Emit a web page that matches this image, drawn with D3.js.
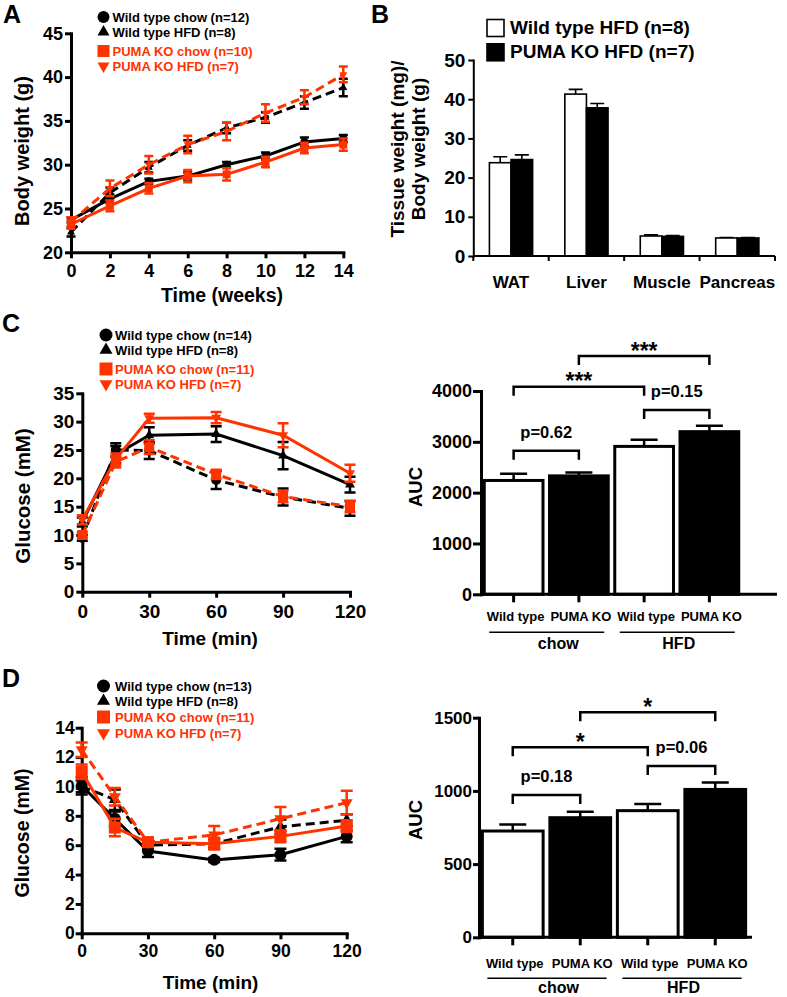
<!DOCTYPE html>
<html><head><meta charset="utf-8">
<script src="https://cdn.jsdelivr.net/npm/d3@7"></script>
<style>
body{margin:0;background:#fff}
svg{display:block}
</style></head><body>
<svg id="fig" width="787" height="997"></svg>
<script>
// ---------------- DATA ----------------
const seriesNames = ["Wild type chow", "Wild type HFD", "PUMA KO chow", "PUMA KO HFD"];
const nA = [12, 8, 10, 7];
const nC = [14, 8, 11, 7];
const nD = [13, 8, 11, 7];

// Panel A: body weight (g)
const weeks = [0, 2, 4, 6, 8, 10, 12, 14];
const bwWTchow    = [23.7, 26.1, 28.1, 28.7, 30.0, 31.0, 32.6, 33.0];
const bwWTchowErr = [0.3, 0.5, 0.3, 0.4, 0.3, 0.4, 0.5, 0.4];
const bwWThfd     = [22.3, 26.8, 29.7, 32.2, 34.2, 35.4, 37.1, 38.8];
const bwWThfdErr  = [0.5, 0.6, 0.6, 0.6, 0.6, 0.6, 0.7, 1.0];
const bwKOchow    = [23.2, 25.3, 27.3, 28.7, 28.9, 30.3, 31.9, 32.3];
const bwKOchowErr = [0.5, 0.6, 0.6, 0.7, 0.7, 0.6, 0.6, 0.7];
const bwKOhfd     = [23.5, 27.3, 30.0, 32.3, 33.8, 35.9, 37.7, 40.3];
const bwKOhfdErr  = [0.5, 0.9, 1.0, 1.0, 1.0, 1.0, 0.8, 0.9];
const weekTicks = [0, 2, 4, 6, 8, 10, 12, 14];
const bwTicks = [20, 25, 30, 35, 40, 45];

// Panel B: tissue weight / body weight
const tissues = ["WAT", "Liver", "Muscle", "Pancreas"];
const tissueWT    = [23.8, 41.3, 5.1, 4.6];
const tissueWTerr = [1.5, 1.2, 0.3, 0.1];
const tissueKO    = [24.6, 37.8, 5.0, 4.6];
const tissueKOerr = [1.2, 1.1, 0.2, 0.1];
const tissueTicks = [0, 10, 20, 30, 40, 50];
const tissueLegend = ["Wild type HFD (n=8)", "PUMA KO HFD (n=7)"];

// Panel C: GTT glucose (mM)
const minutes = [0, 15, 30, 60, 90, 120];
const gttWTchow    = [9.5, 25.0, 24.9, 19.7, 16.7, 14.7];
const gttWTchowErr = [0.5, 1.2, 1.5, 1.6, 1.5, 1.3];
const gttWThfd     = [12.3, 24.2, 27.6, 27.8, 24.0, 18.9];
const gttWThfdErr  = [0.8, 1.5, 1.4, 1.4, 2.4, 1.4];
const gttKOchow    = [10.0, 22.9, 25.5, 20.7, 16.8, 15.0];
const gttKOchowErr = [0.5, 1.0, 1.2, 0.8, 1.0, 1.0];
const gttKOhfd     = [12.7, 23.4, 30.6, 30.7, 27.6, 20.9];
const gttKOhfdErr  = [0.8, 1.0, 0.8, 1.0, 2.1, 1.5];
const gttTicks = [0, 5, 10, 15, 20, 25, 30, 35];
const minTicks = [0, 30, 60, 90, 120];

// Panel D: ITT glucose (mM)
const ittWTchow    = [10.05, 7.8, 5.6, 5.0, 5.35, 6.6];
const ittWTchowErr = [0.6, 0.5, 0.4, 0.15, 0.4, 0.4];
const ittWThfd     = [10.0, 9.1, 6.0, 6.1, 7.25, 7.7];
const ittWThfdErr  = [0.4, 0.7, 0.3, 0.3, 0.5, 0.4];
const ittKOchow    = [11.0, 7.2, 6.2, 6.1, 6.6, 7.3];
const ittKOchowErr = [0.5, 0.6, 0.3, 0.4, 0.4, 0.4];
const ittKOhfd     = [12.5, 9.3, 6.2, 6.7, 7.8, 8.9];
const ittKOhfdErr  = [0.5, 0.6, 0.3, 0.6, 0.8, 0.8];
const ittTicks = [0, 2, 4, 6, 8, 10, 12, 14];

// AUC bars
const diets = ["chow", "HFD"];
const genotypes = ["Wild type", "PUMA KO"];
const gttAUC    = [2240, 2330, 2910, 3200];
const gttAUCerr = [130, 65, 130, 115];
const gttAUCticks = [0, 1000, 2000, 3000, 4000];
const gttTests = ["p=0.62", "p=0.15", "***", "***"];
const ittAUC    = [726, 817, 865, 1010];
const ittAUCerr = [45, 41, 45, 48];
const ittAUCticks = [0, 500, 1000, 1500];
const ittTests = ["p=0.18", "p=0.06", "*", "*"];
const testPairs = [[0, 1], [2, 3], [0, 2], [1, 3]];

// ---------------- DRAWING ----------------
const FONT = '"Liberation Sans", Arial, Helvetica, sans-serif';
const RED = "#ff3300";
const svg = d3.select("#fig").attr("font-family", FONT).attr("font-weight", "bold");

function styleAxis(sel, fs, sw) {
  sel.attr("font-family", FONT).attr("font-size", fs).attr("font-weight", "bold");
  sel.select(".domain").attr("stroke", "#000").attr("stroke-width", sw).attr("stroke-linecap", "square");
  sel.selectAll(".tick line").attr("stroke", "#000").attr("stroke-width", sw);
  sel.selectAll(".tick text").attr("fill", "#000");
}

function markerPath(type, s) {
  if (type === "circle") return d3.symbol(d3.symbolCircle, Math.PI * (s / 2) * (s / 2))();
  if (type === "square") return d3.symbol(d3.symbolSquare, s * s)();
  return d3.symbol(d3.symbolTriangle, Math.sqrt(3) * s * s / 4)();
}
function markerTransform(type, x, y) {
  return `translate(${x},${y})` + (type === "triangleDown" ? " rotate(180)" : "");
}

function text(g, str, x, y, size, opts = {}) {
  const t = g.append("text").attr("x", x).attr("y", y).attr("font-size", size)
    .attr("font-weight", "bold").attr("fill", opts.fill || "#000")
    .attr("text-anchor", opts.anchor || "start").text(str);
  if (opts.baseline) t.attr("dominant-baseline", opts.baseline);
  if (opts.rotate) t.attr("transform", `rotate(-90,${x},${y})`);
  return t;
}

function lineChart(cfg) {
  const g = svg.append("g");
  const x = d3.scaleLinear().domain(cfg.xDomain).range(cfg.xRange);
  const y = d3.scaleLinear().domain(cfg.yDomain).range(cfg.yRange);
  const ax = g.append("g").attr("transform", `translate(0,${cfg.yRange[0]})`)
    .call(d3.axisBottom(x).tickValues(cfg.xTicks).tickSize(6).tickSizeOuter(0).tickPadding(cfg.xPad));
  styleAxis(ax, cfg.tickFont, 3);
  const ay = g.append("g").attr("transform", `translate(${cfg.xRange[0]},0)`)
    .call(d3.axisLeft(y).tickValues(cfg.yTicks).tickSize(6).tickSizeOuter(0).tickPadding(cfg.yPad));
  styleAxis(ay, cfg.tickFont, 3);

  cfg.series.forEach(s => {
    const pts = cfg.times.map((t, i) => ({ t, v: s.vals[i], e: s.errs[i] }));
    g.append("path").datum(pts)
      .attr("d", d3.line().x(d => x(d.t)).y(d => y(d.v)))
      .attr("fill", "none").attr("stroke", s.color).attr("stroke-width", 3)
      .attr("stroke-dasharray", s.dashed ? "9,5" : null);
    const eb = g.append("g").attr("stroke", s.color).attr("stroke-width", 2.5).attr("fill", "none");
    eb.selectAll(null).data(pts).join("path")
      .attr("d", d => {
        const cx = x(d.t), y1 = y(d.v + d.e), y0 = y(d.v - d.e), w = cfg.cap / 2;
        return `M${cx},${y0}V${y1}M${cx - w},${y1}H${cx + w}M${cx - w},${y0}H${cx + w}`;
      });
    g.selectAll(null).data(pts).join("path")
      .attr("d", markerPath(s.marker, cfg.markerSize))
      .attr("transform", d => markerTransform(s.marker, x(d.t), y(d.v)))
      .attr("fill", s.color);
  });

  // legend
  cfg.series.forEach((s, i) => {
    const ly = cfg.legendY[i];
    g.append("path").attr("d", markerPath(s.marker, cfg.legendMarker))
      .attr("transform", markerTransform(s.marker, cfg.legendX, ly)).attr("fill", s.color);
    text(g, `${s.name} (n=${s.n})`, cfg.legendTextX, ly, cfg.legendFont, { fill: s.color, baseline: "central" });
  });

  text(g, cfg.xTitle, cfg.xTitlePos[0], cfg.xTitlePos[1], cfg.xTitleFont, { anchor: "middle", baseline: "central" });
  text(g, cfg.yTitle, cfg.yTitlePos[0], cfg.yTitlePos[1], cfg.yTitleFont, { anchor: "middle", baseline: "central", rotate: true });
}

function makeSeries(vals, errs, ns, dashedPattern) {
  const colors = ["#000", "#000", RED, RED];
  const markers = ["circle", "triangle", "square", "triangleDown"];
  return seriesNames.map((name, i) => ({
    name, n: ns[i], vals: vals[i], errs: errs[i], color: colors[i], marker: markers[i], dashed: dashedPattern[i]
  }));
}

// ---- Panel A ----
lineChart({
  xDomain: [0, 14], xRange: [71, 343.3], yDomain: [20, 45], yRange: [252.3, 33.3],
  xTicks: weekTicks, yTicks: bwTicks, xPad: 6, yPad: 2, tickFont: 18,
  times: weeks,
  series: makeSeries([bwWTchow, bwWThfd, bwKOchow, bwKOhfd], [bwWTchowErr, bwWThfdErr, bwKOchowErr, bwKOhfdErr], nA, [false, true, false, true]),
  cap: 9, markerSize: 8,
  legendX: 103.5, legendTextX: 112.5, legendY: [17, 32, 51, 66], legendMarker: 12, legendFont: 13,
  xTitle: "Time (weeks)", xTitlePos: [222, 295], xTitleFont: 19.5,
  yTitle: "Body weight (g)", yTitlePos: [22, 151], yTitleFont: 20
});

// ---- Panel C (left) ----
lineChart({
  xDomain: [0, 120], xRange: [82.3, 350], yDomain: [0, 35], yRange: [591.7, 393.3],
  xTicks: minTicks, yTicks: gttTicks, xPad: 7, yPad: 2, tickFont: 19,
  times: minutes,
  series: makeSeries([gttWTchow, gttWThfd, gttKOchow, gttKOhfd], [gttWTchowErr, gttWThfdErr, gttKOchowErr, gttKOhfdErr], nC, [true, false, true, false]),
  cap: 11, markerSize: 10,
  legendX: 106, legendTextX: 115, legendY: [335, 350, 369, 384], legendMarker: 13, legendFont: 13,
  xTitle: "Time (min)", xTitlePos: [210, 638], xTitleFont: 19,
  yTitle: "Glucose (mM)", yTitlePos: [22.5, 496], yTitleFont: 20.5
});

// ---- Panel D (left) ----
lineChart({
  xDomain: [0, 120], xRange: [81.7, 346.7], yDomain: [0, 14], yRange: [933.3, 727.7],
  xTicks: minTicks, yTicks: ittTicks, xPad: 5, yPad: 1, tickFont: 17.5,
  times: minutes,
  series: makeSeries([ittWTchow, ittWThfd, ittKOchow, ittKOhfd], [ittWTchowErr, ittWThfdErr, ittKOchowErr, ittKOhfdErr], nD, [false, true, false, true]),
  cap: 12, markerSize: 12,
  legendX: 103.5, legendTextX: 115, legendY: [686, 701, 717, 733], legendMarker: 13, legendFont: 13,
  xTitle: "Time (min)", xTitlePos: [210.5, 982], xTitleFont: 19,
  yTitle: "Glucose (mM)", yTitlePos: [22, 833], yTitleFont: 19.5
});

// ---- Panel B ----
(function () {
  const g = svg.append("g");
  const x0 = d3.scaleBand().domain(tissues).range([473.3, 775]).padding(0);
  const half = 21.6;
  const x1 = d3.scaleBand().domain(["WT", "KO"]).range([x0.step() / 2 - half, x0.step() / 2 + half]);
  const y = d3.scaleLinear().domain([0, 50]).range([256, 60]);
  const rows = tissues.map((t, i) => [
    { t, k: "WT", v: tissueWT[i], e: tissueWTerr[i] },
    { t, k: "KO", v: tissueKO[i], e: tissueKOerr[i] }]).flat();
  g.append("g").attr("stroke", "#000").attr("stroke-width", 1.6).selectAll(null).data(rows).join("path")
    .attr("d", d => {
      const cx = x0(d.t) + x1(d.k) + x1.bandwidth() / 2, yt = y(d.v + d.e);
      return `M${cx},${y(d.v)}V${yt}M${cx - 7},${yt}H${cx + 7}`;
    });
  g.selectAll(null).data(rows).join("rect")
    .attr("x", d => x0(d.t) + x1(d.k)).attr("y", d => y(d.v))
    .attr("width", x1.bandwidth()).attr("height", d => y(0) - y(d.v))
    .attr("fill", d => d.k === "KO" ? "#000" : "#fff").attr("stroke", "#000").attr("stroke-width", 1.6);
  const ay = g.append("g").attr("transform", "translate(473.3,0)")
    .call(d3.axisLeft(y).tickValues(tissueTicks).tickSize(5).tickSizeOuter(0).tickPadding(3));
  styleAxis(ay, 19, 2);
  g.append("line").attr("x1", 473.3).attr("x2", 775).attr("y1", y(0)).attr("y2", y(0))
    .attr("stroke", "#000").attr("stroke-width", 2);
  const bounds = tissues.map(t => x0(t)).concat([x0.range()[1]]);
  g.selectAll(null).data(bounds).join("line")
    .attr("x1", d => d).attr("x2", d => d).attr("y1", y(0)).attr("y2", y(0) + 5)
    .attr("stroke", "#000").attr("stroke-width", 2);
  tissues.forEach(t => text(g, t, x0(t) + x0.step() / 2, 288, 17, { anchor: "middle" }));
  tissueLegend.forEach((lab, i) => {
    g.append("rect").attr("x", 487).attr("y", 19.5 + i * 24.3).attr("width", 17).attr("height", 17)
      .attr("fill", i ? "#000" : "#fff").attr("stroke", "#000").attr("stroke-width", 1.6);
    text(g, lab, 510, 33.8 + i * 24.3, 19);
  });
  text(g, "Tissue weight (mg)/", 397, 149, 19, { anchor: "middle", baseline: "central", rotate: true });
  text(g, "Body weight (g)", 418.5, 149, 19, { anchor: "middle", baseline: "central", rotate: true });
})();

// ---- AUC charts ----
function aucChart(cfg) {
  const g = svg.append("g");
  const keys = d3.cross(diets, genotypes).map(([d, gn]) => d + "|" + gn);
  const x = d3.scaleBand().domain(keys).range(cfg.bandRange).paddingInner(0.1).paddingOuter(0.05);
  const y = d3.scaleLinear().domain(cfg.yDomain).range(cfg.yRange);
  const cx = k => x(k) + x.bandwidth() / 2;
  const rows = keys.map((k, i) => ({ k, v: cfg.vals[i], e: cfg.errs[i], ko: i % 2 === 1 }));
  g.append("g").attr("stroke", "#000").attr("stroke-width", 2.5).selectAll(null).data(rows).join("path")
    .attr("d", d => {
      const yt = y(d.v + d.e), c = cx(d.k);
      return `M${c},${y(d.v)}V${yt}M${c - cfg.cap / 2},${yt}H${c + cfg.cap / 2}`;
    });
  g.selectAll(null).data(rows).join("rect")
    .attr("x", d => x(d.k)).attr("y", d => y(d.v))
    .attr("width", x.bandwidth()).attr("height", d => y(0) - y(d.v))
    .attr("fill", d => d.ko ? "#000" : "#fff").attr("stroke", "#000").attr("stroke-width", 3);
  const ay = g.append("g").attr("transform", `translate(${cfg.bandRange[0]},0)`)
    .call(d3.axisLeft(y).tickValues(cfg.yTicks).tickFormat(d3.format("d"))
      .tickSize(cfg.tickLen).tickSizeOuter(0).tickPadding(1));
  styleAxis(ay, cfg.tickFont, 3);
  g.append("line").attr("x1", cfg.bandRange[0]).attr("x2", cfg.axisEnd).attr("y1", y(0)).attr("y2", y(0))
    .attr("stroke", "#000").attr("stroke-width", 3);
  g.selectAll(null).data(keys).join("line")
    .attr("x1", cx).attr("x2", cx).attr("y1", y(0)).attr("y2", y(0) + 8)
    .attr("stroke", "#000").attr("stroke-width", 3);
  keys.forEach((k, i) => text(g, genotypes[i % 2], cx(k) + 2, cfg.catY, 13, { anchor: "middle" }));
  diets.forEach((d, j) => {
    const a = keys[2 * j], b = keys[2 * j + 1];
    g.append("line").attr("x1", x(a) + 5).attr("x2", x(b) + x.bandwidth() - 4)
      .attr("y1", cfg.groupLineY).attr("y2", cfg.groupLineY).attr("stroke", "#000").attr("stroke-width", 1.5);
    text(g, d, (cx(a) + cx(b)) / 2 + cfg.groupDx[j], cfg.groupY, 16, { anchor: "middle" });
  });
  testPairs.forEach(([ia, ib], i) => {
    const top = y(cfg.bracketY[i]), xa = cx(keys[ia]), xb = cx(keys[ib]);
    g.append("path").attr("d", `M${xa},${top + 9}V${top}H${xb}V${top + 9}`)
      .attr("fill", "none").attr("stroke", "#000").attr("stroke-width", 2.5);
    const lab = cfg.tests[i];
    const star = lab.startsWith("*");
    text(g, lab, (xa + xb) / 2, star ? top + 2.5 : top - 13, star ? 23 : 16.5, { anchor: "middle" });
  });
  text(g, "AUC", 415, cfg.aucY, 18.5, { anchor: "middle", baseline: "central", rotate: true });
}

aucChart({
  bandRange: [481, 742], axisEnd: 777, yDomain: [0, 4000], yRange: [594.3, 391],
  vals: gttAUC, errs: gttAUCerr, yTicks: gttAUCticks, tickFont: 18, tickLen: 8, cap: 27,
  catY: 621, groupLineY: 632.3, groupY: 649, groupDx: [12, 2],
  tests: gttTests, bracketY: [2825, 3626, 4084, 4688], aucY: 487
});
aucChart({
  bandRange: [479, 749], axisEnd: 752, yDomain: [0, 1500], yRange: [937.3, 717.7],
  vals: ittAUC, errs: ittAUCerr, yTicks: ittAUCticks, tickFont: 17, tickLen: 6, cap: 27,
  catY: 968, groupLineY: 978.3, groupY: 993, groupDx: [12, 2],
  tests: ittTests, bracketY: [972, 1170, 1298, 1537], aucY: 820
});

// Panel letters
text(svg, "A", 3, 23, 25);
text(svg, "B", 371, 23, 25);
text(svg, "C", 2, 332, 25);
text(svg, "D", 2, 687, 25);
</script>
</body></html>
